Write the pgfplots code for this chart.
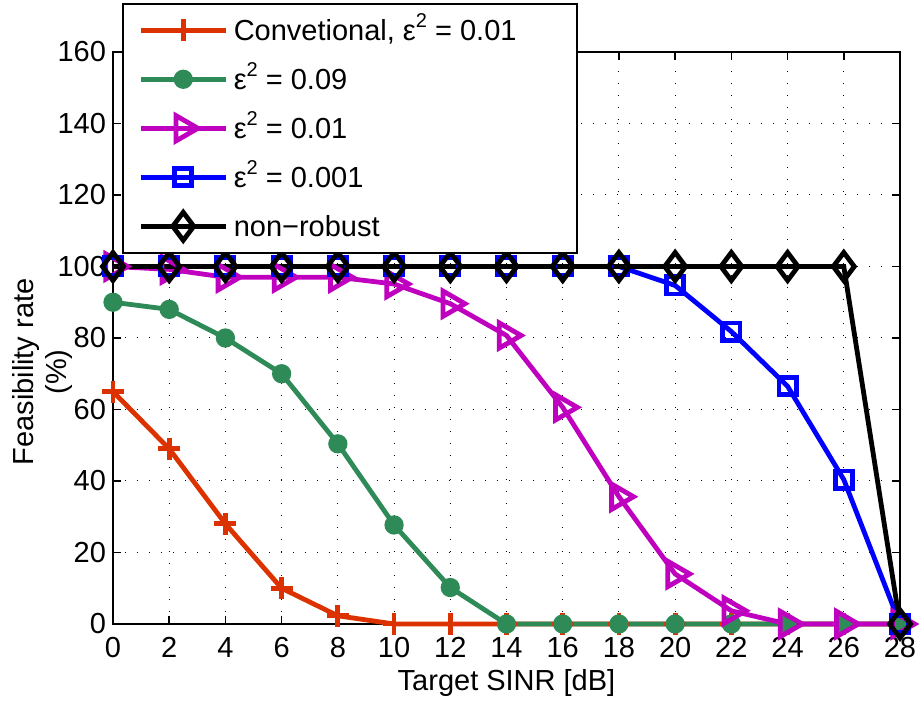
\documentclass[border=0pt]{standalone}
\usepackage{fontspec}
\setmainfont{Liberation Sans}
\usepackage{pgfplots}
\usetikzlibrary{calc}
\pgfplotsset{compat=1.18}
\definecolor{cred}{RGB}{220,50,0}
\definecolor{cgreen}{RGB}{46,139,87}
\definecolor{cmag}{RGB}{191,0,191}
\definecolor{cblue}{RGB}{0,0,255}
\newcommand{\epsq}{ε\raisebox{6.5bp}{\fontsize{10bp}{10bp}\selectfont 2}}
\newcommand{\fnt}{\fontsize{14.5bp}{16.5bp}\selectfont}
\begin{document}
\begin{tikzpicture}
\useasboundingbox (-56.5bp,-42bp) rectangle (405bp,312bp);
\begin{axis}[
  at={(0,0)}, anchor=south west,
  scale only axis, width=393.5bp, height=286bp,
  xmin=0, xmax=28, ymin=0, ymax=160,
  xtick={0,2,...,28}, ytick={0,20,...,160},
  tick align=inside, tick pos=both, major tick length=4bp,
  grid=major,
  major grid style={black, line width=0.5bp, dash pattern=on 0.5bp off 5.5bp},
  axis line style={line width=0.8bp},
  every tick/.style={black, line width=0.8bp},
  tick label style={font=\fnt},
  label style={font=\fnt},
  /pgf/number format/assume math mode=true,
  xticklabel style={yshift=-3.2bp},
  xlabel={Target SINR [dB]},
  xlabel style={at={(rel axis cs:0.5,0)}, anchor=base, yshift=-33bp},
  ylabel={Feasibility rate\\(\%)},
  ylabel style={at={($(rel axis cs:0,0.4406)+(-35.25bp,0)$)}, anchor=center, align=center},
  clip=false,
  legend cell align=left,
  legend style={at={(0.0114,1.0857)}, anchor=north west, draw=black, line width=0.8bp,
    fill=white, inner xsep=9bp, inner ysep=1bp, row sep=0pt, column sep=4bp,
    font=\fnt, nodes={inner sep=0pt, text height=10.5bp, text depth=0bp}},
  legend image code/.code={
    \path[draw=none, fill=none] (0bp,-12.25bp) rectangle (42.5bp,12.25bp);
    \draw[mark repeat=2,mark phase=2,#1,overlay] plot coordinates {(0bp,0bp)(21.25bp,0bp)(42.5bp,0bp)};
  },
]
\addplot[cred, line width=2.4bp, mark=+, mark size=5.5bp] coordinates {
 (0,65)(2,49)(4,28)(6,10)(8,2.3)(10,0)(12,0)(14,0)(16,0)(18,0)(20,0)(22,0)(24,0)(26,0)(28,0)};
\addlegendentry{\makebox[162.5bp][l]{Convetional, \epsq{} = 0.01}}
\addplot[cgreen, line width=2.4bp, mark=*, mark size=3.6bp, mark options={fill=cgreen}] coordinates {
 (0,90)(2,88)(4,80)(6,70)(8,50.4)(10,27.7)(12,10.2)(14,0)(16,0)(18,0)(20,0)(22,0)(24,0)(26,0)(28,0)};
\addlegendentry{\epsq{} = 0.09}
\addplot[cmag, line width=2.4bp, mark=triangle, mark size=7.3bp, mark options={rotate=-90}] coordinates {
 (0,100)(2,99.2)(4,97)(6,97)(8,97)(10,95.1)(12,89.6)(14,80.7)(16,60.6)(18,35.6)(20,14)(22,3.7)(24,0)(26,0)(28,0)};
\addlegendentry{\epsq{} = 0.01}
\addplot[cblue, line width=2.4bp, mark=square, mark size=4.3bp] coordinates {
 (0,100)(2,100)(4,100)(6,100)(8,100)(10,100)(12,100)(14,100)(16,100)(18,100)(20,94.7)(22,81.8)(24,66.5)(26,40.4)(28,0)};
\addlegendentry{\epsq{} = 0.001}
\addplot[black, line width=2.4bp, mark=diamond, mark size=7bp] coordinates {
 (0,100)(2,100)(4,100)(6,100)(8,100)(10,100)(12,100)(14,100)(16,100)(18,100)(20,100)(22,100)(24,100)(26,100)(28,0)};
\addlegendentry{non\textminus robust}
\end{axis}
\end{tikzpicture}
\end{document}
